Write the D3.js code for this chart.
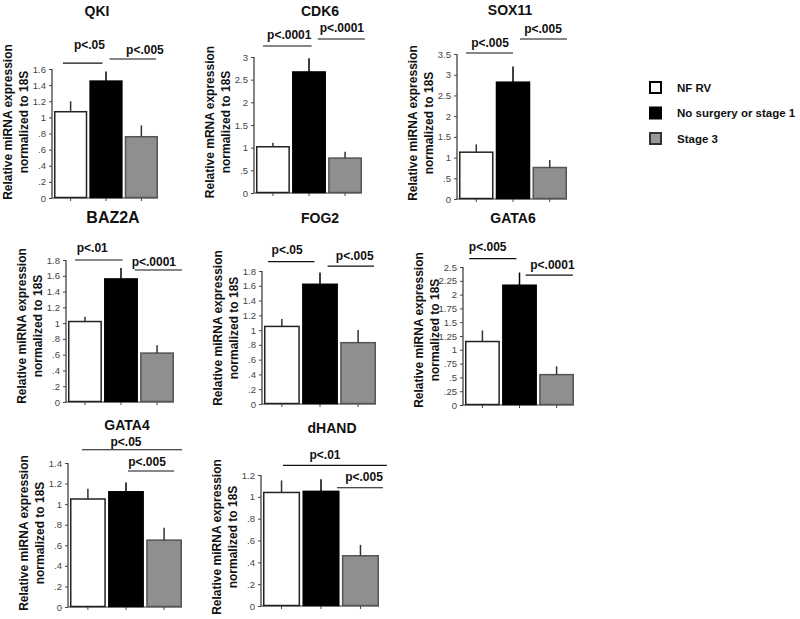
<!DOCTYPE html>
<html>
<head>
<meta charset="utf-8">
<script src="https://cdn.jsdelivr.net/npm/d3@7"></script>
<style>
  html, body { margin: 0; padding: 0; background: #fff; }
  svg { display: block; font-family: "Liberation Sans", Arial, sans-serif; }
</style>
</head>
<body>
<svg id="chart" width="800" height="619"></svg>
<script>
// ---------------- DATA ----------------
const genes = ["QKI", "CDK6", "SOX11", "BAZ2A", "FOG2", "GATA6", "GATA4", "dHAND"];
const groups = ["NF RV", "No surgery or stage 1", "Stage 3"];
const nfRV      = [1.07, 1.02, 1.13, 1.02, 1.05, 1.15, 1.05, 1.04];
const noSurgery = [1.45, 2.67, 2.82, 1.56, 1.62, 2.17, 1.12, 1.05];
const stage3    = [0.76, 0.77, 0.76, 0.62, 0.83, 0.55, 0.65, 0.46];
const errNF     = [0.13, 0.09, 0.19, 0.06, 0.10, 0.20, 0.10, 0.11];
const errNS     = [0.12, 0.30, 0.38, 0.14, 0.16, 0.23, 0.09, 0.11];
const errS3     = [0.14, 0.14, 0.18, 0.10, 0.17, 0.15, 0.12, 0.10];
const yMax  = [1.6, 3, 3.5, 1.8, 1.8, 2.5, 1.4, 1.2];
const yStep = [0.2, 0.5, 0.5, 0.2, 0.2, 0.25, 0.2, 0.2];
const yLabels = [
  ["Relative miRNA expression", "normalized to 18S"],
  ["Relative mRNA expression", "normalized to 18S"],
  ["Relative miRNA expression", "normalized to 18S"],
  ["Relative miRNA expression", "normalized to 18S"],
  ["Relative miRNA expression", "normalized to 18S"],
  ["Relative miRNA expression", "normalized to 18S"],
  ["Relative miRNA expression", "normalized to 18S"],
  ["Relative miRNA expression", "normalized to 18S"]
];
const sigLabels = [
  ["p<.05", "p<.005"], ["p<.0001", "p<.0001"], ["p<.005", "p<.005"], ["p<.01", "p<.0001"],
  ["p<.05", "p<.005"], ["p<.005", "p<.0001"], ["p<.05", "p<.005"], ["p<.01", "p<.005"]
];
// bracket extents in group-index units, heights in data units: [from, to, level, textPos, textLevel]
const sigBrackets = [
  [[0.31, 1.43, 1.674, 1.06, 1.85], [1.63, 2.94, 1.724, 2.63, 1.786]],
  [[0.25, 1.60, 3.243, 0.98, 3.397], [1.77, 3.08, 3.397, 2.44, 3.55]],
  [[0.245, 1.527, 3.524, 0.90, 3.669], [1.718, 3.0, 3.862, 2.345, 4.007]],
  [[0.25, 1.57, 1.80, 0.73, 1.901], [1.906, 3.22, 1.673, 2.44, 1.724]],
  [[0.16, 1.38, 1.926, 0.66, 2.03], [1.726, 2.947, 1.867, 2.44, 1.948]],
  [[0.167, 1.444, 2.652, 0.667, 2.784], [1.694, 2.97, 2.351, 2.417, 2.459]],
  [[0.368, 3.0, 1.529, 1.526, 1.565], [1.579, 2.79, 1.322, 2.08, 1.368]],
  [[0.559, 3.2, 1.288, 1.627, 1.346], [1.932, 3.1, 1.083, 2.62, 1.145]]
];

// ---------------- LAYOUT (pixels) ----------------
// x0, x1 (axis extent), yb (zero), yt (top tick), title x, title baseline, title size, ylabel center y
const panels = [
  {x0: 52,  x1: 158, yb: 198, yt: 69,  tx: 97,  ty: 16,  ts: 14, ly: 122},
  {x0: 254, x1: 362, yb: 193, yt: 57,  tx: 320, ty: 16,  ts: 14, ly: 122},
  {x0: 457, x1: 567, yb: 199, yt: 54,  tx: 510, ty: 15,  ts: 14, ly: 123},
  {x0: 66,  x1: 174, yb: 402, yt: 260, tx: 113, ty: 223, ts: 16, ly: 326},
  {x0: 262, x1: 376, yb: 404, yt: 271, tx: 320, ty: 223, ts: 14, ly: 328},
  {x0: 463, x1: 574, yb: 405, yt: 267, tx: 513, ty: 223, ts: 14, ly: 330},
  {x0: 68,  x1: 182, yb: 607, yt: 463, tx: 127, ty: 430, ts: 14, ly: 533},
  {x0: 261, x1: 379, yb: 606, yt: 475, tx: 332, ty: 433, ts: 14, ly: 537}
];

const fills   = ["#ffffff", "#000000", "#8f8f8f"];
const strokes = ["#222222", "#000000", "#555555"];

const svg = d3.select("#chart");

function fmt(v) {
  if (v === 0) return "0";
  return String(+v.toFixed(2)).replace(/^0\./, ".");
}

genes.forEach((gene, i) => {
  const p = panels[i];
  const vals = [nfRV[i], noSurgery[i], stage3[i]];
  const errs = [errNF[i], errNS[i], errS3[i]];
  const g = svg.append("g");

  const y = d3.scaleLinear().domain([0, yMax[i]]).range([p.yb, p.yt]);
  const x = d3.scaleBand().domain([0, 1, 2]).range([p.x0 + 2, p.x1]).paddingInner(0.06).paddingOuter(0);
  const xi = d3.scaleLinear().domain([0, 3]).range([p.x0, p.x1]);

  const ticks = d3.range(0, yMax[i] + yStep[i] / 2, yStep[i]);

  // y axis
  const yAxis = d3.axisLeft(y).tickValues(ticks).tickFormat(fmt).tickSize(3).tickPadding(3);
  const ya = g.append("g").attr("transform", `translate(${p.x0},0)`).call(yAxis);
  ya.select(".domain").attr("stroke", "#333").attr("stroke-width", 1.2).attr("d", `M-0,${p.yt}V${p.yb}`);
  ya.selectAll(".tick line").attr("stroke", "#444");
  ya.selectAll(".tick text").attr("fill", "#444").style("font-size", "9.5px")
    .style("font-family", "'Liberation Sans', Arial, sans-serif");

  // x axis
  const xAxis = d3.axisBottom(x).tickFormat("").tickSize(3).tickSizeOuter(0);
  const xa = g.append("g").attr("transform", `translate(0,${p.yb})`).call(xAxis);
  xa.select(".domain").attr("stroke", "#333").attr("stroke-width", 1.2).attr("d", `M${p.x0},0H${p.x1}`);
  xa.selectAll(".tick line").attr("stroke", "#444");

  // bars
  g.selectAll("rect.bar").data(vals).enter().append("rect")
    .attr("class", "bar")
    .attr("x", (d, k) => x(k) + 0.75)
    .attr("width", x.bandwidth() - 1.5)
    .attr("y", d => y(d))
    .attr("height", d => y(0) - y(d) - 0.5)
    .attr("fill", (d, k) => fills[k])
    .attr("stroke", (d, k) => strokes[k])
    .attr("stroke-width", 1.5);

  // error bars (upper only)
  g.selectAll("line.err").data(vals).enter().append("line")
    .attr("class", "err")
    .attr("x1", (d, k) => x(k) + x.bandwidth() / 2)
    .attr("x2", (d, k) => x(k) + x.bandwidth() / 2)
    .attr("y1", d => y(d))
    .attr("y2", (d, k) => y(d + errs[k]))
    .attr("stroke", (d, k) => k === 1 ? "#000" : "#333")
    .attr("stroke-width", 1.5);

  // significance brackets
  sigBrackets[i].forEach((b, j) => {
    g.append("line")
      .attr("x1", xi(b[0])).attr("x2", xi(b[1]))
      .attr("y1", y(b[2])).attr("y2", y(b[2]))
      .attr("stroke", "#111").attr("stroke-width", 1.2);
    g.append("text")
      .attr("x", xi(b[3])).attr("y", y(b[4]))
      .attr("text-anchor", "middle")
      .style("font-size", "12px").style("font-weight", "bold")
      .attr("fill", "#111")
      .text(sigLabels[i][j]);
  });

  // title
  g.append("text")
    .attr("x", p.tx).attr("y", p.ty)
    .attr("text-anchor", "middle")
    .style("font-size", p.ts + "px").style("font-weight", "bold")
    .attr("fill", "#111")
    .text(gene);

  // y label (two lines)
  yLabels[i].forEach((t, j) => {
    g.append("text")
      .attr("transform", `translate(${p.x0 - 40 + j * 16},${p.ly}) rotate(-90)`)
      .attr("text-anchor", "middle")
      .style("font-size", "12px").style("font-weight", "bold")
      .attr("fill", "#111")
      .text(t);
  });
});

// legend
const legend = svg.append("g").attr("transform", "translate(649,81)");
groups.forEach((name, k) => {
  const row = legend.append("g").attr("transform", `translate(0,${k * 25.5})`);
  row.append("rect").attr("x", 1).attr("y", 1).attr("width", 11).attr("height", 11)
    .attr("fill", k === 2 ? "#999" : fills[k]).attr("stroke", k === 2 ? "#333" : "#000").attr("stroke-width", 2);
  row.append("text").attr("x", 28).attr("y", 10.5)
    .style("font-size", "11.5px").style("font-weight", "bold").attr("fill", "#111")
    .text(name);
});
</script>
</body>
</html>
